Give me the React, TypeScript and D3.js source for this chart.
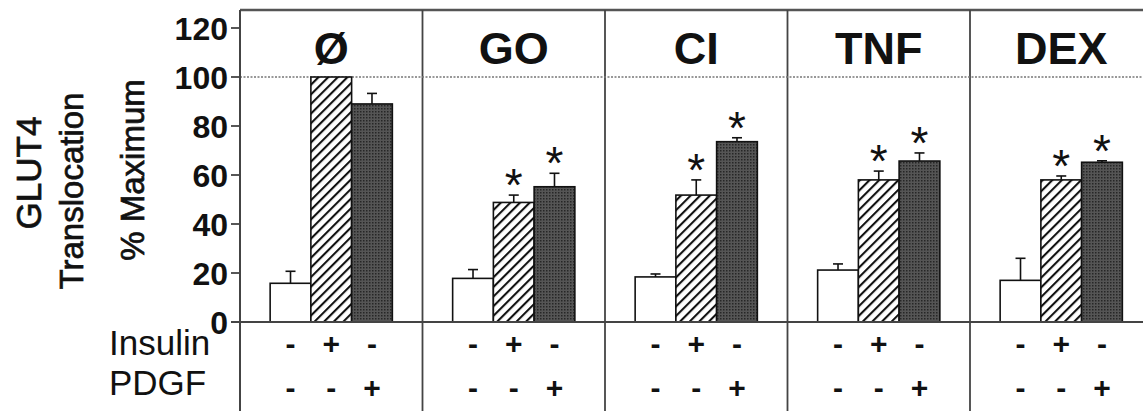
import React from "react";
import * as d3 from "d3";

// treatment groups (panel titles)
const groups = ["Ø", "GO", "CI", "TNF", "DEX"];
const conditions = ["basal", "insulin", "pdgf"];

// % of maximum GLUT4 translocation
const basal = [15.8, 17.8, 18.4, 21.2, 17.0];
const basalSem = [4.9, 3.6, 1.2, 2.5, 9.0];
const insulin = [100, 48.8, 51.8, 58.0, 58.0];
const insulinSem = [0, 3.0, 6.2, 3.6, 1.6];
const pdgf = [89.0, 55.2, 73.6, 65.7, 65.2];
const pdgfSem = [4.3, 5.5, 1.6, 3.3, 0.6];

// significance markers
const insulinStar = [false, true, true, true, true];
const pdgfStar = [false, true, true, true, true];

const insulinRow = ["-", "+", "-"];
const pdgfRow = ["-", "-", "+"];

const yTicks = [0, 20, 40, 60, 80, 100, 120];

const W = 1143;
const H = 411;
const FONT = "'Liberation Sans', Arial, Helvetica, sans-serif";

export default function App() {
  const axisX = 240;
  const panelW = 182.5;
  const frameTop = 10;

  const y = d3.scaleLinear().domain([0, 120]).range([322, 28]);
  const x0 = d3
    .scaleBand()
    .domain(groups)
    .range([axisX, axisX + panelW * groups.length])
    .paddingInner(0)
    .paddingOuter(0);
  const x1 = d3
    .scaleBand()
    .domain(conditions)
    .range([0, x0.bandwidth()])
    .paddingInner(0)
    .paddingOuter(0.74);

  const values = { basal, insulin, pdgf };
  const sems = { basal: basalSem, insulin: insulinSem, pdgf: pdgfSem };
  const stars = { basal: groups.map(() => false), insulin: insulinStar, pdgf: pdgfStar };
  const fills = { basal: "#fff", insulin: "url(#hatch)", pdgf: "url(#dots)" };

  const baseY = y(0);
  // slightly heavier regular text, like the original scan
  const heavy = { stroke: "#111", strokeWidth: 0.7 };

  return (
    <svg
      width={W}
      height={H}
      style={{ position: "absolute", left: 0, top: 0, background: "#fff" }}
      fontFamily={FONT}
    >
      <defs>
        <pattern
          id="hatch"
          width="6.8"
          height="10"
          patternUnits="userSpaceOnUse"
          patternTransform="rotate(45)"
        >
          <rect width="6.8" height="10" fill="#fff" />
          <line x1="1" y1="0" x2="1" y2="10" stroke="#111" strokeWidth="2.2" />
        </pattern>
        <pattern id="dots" width="3" height="3" patternUnits="userSpaceOnUse">
          <rect width="3" height="3" fill="#555" />
          <rect width="1.5" height="1.5" fill="#262626" />
        </pattern>
      </defs>

      {/* frame: top border, panel dividers */}
      <line x1={axisX} x2={W + 10} y1={frameTop} y2={frameTop} stroke="#555" strokeWidth={2.5} />
      {groups.map((g) => (
        <line
          key={"div" + g}
          x1={x0(g)!}
          x2={x0(g)!}
          y1={frameTop}
          y2={H}
          stroke="#444"
          strokeWidth={1.8}
        />
      ))}

      {/* 100% reference line */}
      <line
        x1={axisX}
        x2={W}
        y1={y(100)}
        y2={y(100)}
        stroke="#777"
        strokeWidth={1.5}
        strokeDasharray="2,1.5"
      />

      {/* y ticks */}
      {yTicks.map((t) => (
        <g key={"t" + t}>
          <line x1={axisX - 9} x2={axisX} y1={y(t)} y2={y(t)} stroke="#444" strokeWidth={1.8} />
          <text
            x={axisX - 12}
            y={y(t)}
            dy="0.36em"
            textAnchor="end"
            fontSize={32}
            fontWeight="bold"
            fill="#111"
          >
            {t}
          </text>
        </g>
      ))}

      {/* titles */}
      {groups.map((g) => (
        <text
          key={"title" + g}
          x={x0(g)! + x0.bandwidth() / 2}
          y={64}
          textAnchor="middle"
          fontSize={45}
          fontWeight="bold"
          fill="#111"
        >
          {g}
        </text>
      ))}

      {/* bars */}
      {groups.map((g, gi) =>
        conditions.map((c) => {
          const v = values[c][gi];
          const e = sems[c][gi];
          const bx = x0(g)! + x1(c)!;
          const bw = x1.bandwidth();
          const cx = bx + bw / 2;
          const top = y(v);
          const errTop = y(v + e);
          return (
            <g key={g + c}>
              <rect
                x={bx}
                y={top}
                width={bw}
                height={baseY - top}
                fill={fills[c]}
                stroke="#111"
                strokeWidth={1.6}
              />
              {e > 0 && (
                <g stroke="#111" strokeWidth={1.6}>
                  <line x1={cx} x2={cx} y1={top} y2={errTop} />
                  <line x1={cx - 5} x2={cx + 5} y1={errTop} y2={errTop} />
                </g>
              )}
              {stars[c][gi] && (
                <text
                  x={cx}
                  y={errTop + 6}
                  textAnchor="middle"
                  fontSize={46}
                  fill="#111"
                >
                  *
                </text>
              )}
            </g>
          );
        })
      )}

      {/* x axis line and y axis */}
      <line x1={axisX - 9} x2={W} y1={baseY} y2={baseY} stroke="#444" strokeWidth={1.8} />
      <line x1={axisX} x2={axisX} y1={frameTop} y2={H} stroke="#444" strokeWidth={2} />

      {/* treatment table */}
      <text x={109} y={355} fontSize={35} fill="#111">
        Insulin
      </text>
      <text x={109} y={395} fontSize={35} fill="#111">
        PDGF
      </text>
      {groups.map((g) =>
        conditions.map((c, ci) => {
          const cx = x0(g)! + x1(c)! + x1.bandwidth() / 2;
          return (
            <g key={"row" + g + c} fontSize={30} fontWeight="bold" fill="#111" textAnchor="middle">
              <text x={cx} y={354}>
                {insulinRow[ci]}
              </text>
              <text x={cx} y={398}>
                {pdgfRow[ci]}
              </text>
            </g>
          );
        })
      )}

      {/* y axis titles */}
      <text
        transform="translate(41,173) rotate(-90)"
        textAnchor="middle"
        fontSize={35}
        fill="#111"
        {...heavy}
      >
        GLUT4
      </text>
      <text
        transform="translate(83,191) rotate(-90)"
        textAnchor="middle"
        fontSize={33}
        fill="#111"
        {...heavy}
      >
        Translocation
      </text>
      <text
        transform="translate(144,170) rotate(-90)"
        textAnchor="middle"
        fontSize={33}
        fill="#111"
        {...heavy}
      >
        % Maximum
      </text>
    </svg>
  );
}
